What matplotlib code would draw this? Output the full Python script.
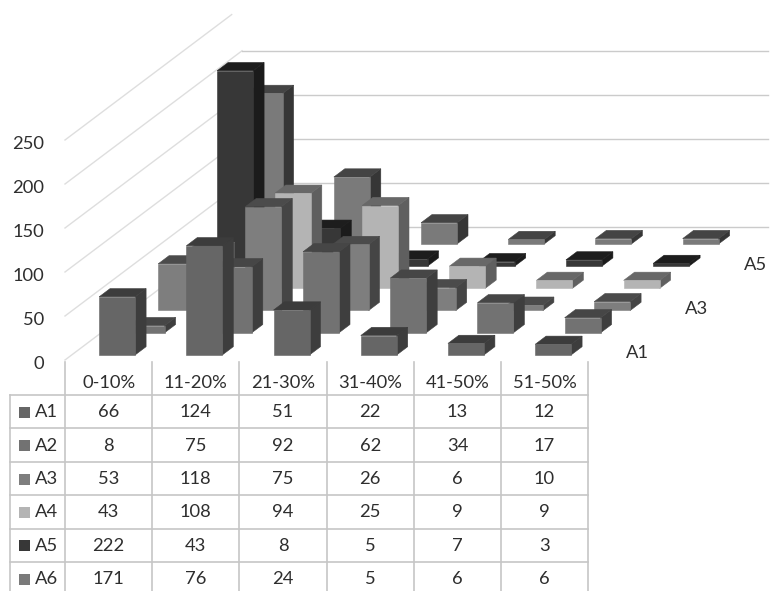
import matplotlib
matplotlib.use("Agg")
import matplotlib.pyplot as plt
from matplotlib.patches import Polygon, Rectangle

plt.rcParams['font.family'] = ['Lato', 'DejaVu Sans']

categories = ['0-10%', '11-20%', '21-30%', '31-40%', '41-50%', '51-50%']
series_names = ['A1', 'A2', 'A3', 'A4', 'A5', 'A6']
a1 = [66, 124, 51, 22, 13, 12]
a2 = [8, 75, 92, 62, 34, 17]
a3 = [53, 118, 75, 26, 6, 10]
a4 = [43, 108, 94, 25, 9, 9]
a5 = [222, 43, 8, 5, 7, 3]
a6 = [171, 76, 24, 5, 6, 6]
series_values = [a1, a2, a3, a4, a5, a6]
y_ticks = [0, 50, 100, 150, 200, 250]
depth_labels = {0: 'A1', 2: 'A3', 4: 'A5'}

# front, side, top shades per series
shades = [
    ('#666666', '#3d3d3d', '#3c3c3c'),
    ('#727272', '#3e3e3e', '#464646'),
    ('#7e7e7e', '#454545', '#4b4b4b'),
    ('#b4b4b4', '#5f5f5f', '#686868'),
    ('#373737', '#1b1b1b', '#1d1d1d'),
    ('#7a7a7a', '#363636', '#444444'),
]

# pixel scales of the oblique floor
CAT_PX = 87.2
VAL_PX = 0.88
DEPTH_X_PX = 29.5
DEPTH_Y_PX = 22.2
ORIGIN_X = 65
ORIGIN_Y = 360
W, H = 770, 591

WALL_SIDE = '#dedede'
WALL_BACK = '#cbcbcb'
TEXT = '#2e2e2e'
TEXT_SIZE = 13.2


def project(u, v, z):
    return u + v * DEPTH_X_PX / CAT_PX, z + v * DEPTH_Y_PX / VAL_PX


def draw_bar(ax, cat, ser, value, colors):
    front, side, top = colors
    u0, u1 = cat + 0.314, cat + 0.727
    v0, v1 = ser + 0.23, ser + 0.6
    faces = [
        (side, [(u1, v0, 0), (u1, v1, 0), (u1, v1, value), (u1, v0, value)]),
        (top, [(u0, v0, value), (u1, v0, value), (u1, v1, value), (u0, v1, value)]),
        (front, [(u0, v0, 0), (u1, v0, 0), (u1, v0, value), (u0, v0, value)]),
    ]
    for color, pts in faces:
        ax.add_patch(Polygon([project(*p) for p in pts], closed=True,
                             facecolor=color, edgecolor=color, linewidth=0.4, zorder=3))


fig = plt.figure(figsize=(W / 100, H / 100), dpi=100)
ax = fig.add_axes([0, 0, 1, 1])
ax.set_xlim(-ORIGIN_X / CAT_PX, (W - ORIGIN_X) / CAT_PX)
ax.set_ylim((ORIGIN_Y - H) / VAL_PX, ORIGIN_Y / VAL_PX)
ax.axis('off')

# walls
for tick in y_ticks:
    end = 5.65 if tick == 250 else 6
    x0, y0 = project(0, 0, tick)
    x1, y1 = project(0, end, tick)
    ax.plot([x0, x1], [y0, y1], color=WALL_SIDE, lw=1.0, zorder=1)
    if tick < 250:
        x2, y2 = project(6.03, 6, tick)
        ax.plot([x1, x2], [y1, y2], color=WALL_BACK, lw=1.0, zorder=1)
    ax.text(x0 - 21 / CAT_PX, tick - 4 / VAL_PX, str(tick), ha='right', va='center',
            color=TEXT, fontsize=TEXT_SIZE)

# back series first so the nearer bars cover them
for ser in reversed(range(len(series_values))):
    for cat, value in enumerate(series_values[ser]):
        draw_bar(ax, cat, ser, value, shades[ser])

for ser, name in depth_labels.items():
    x, y = project(6.4, ser + 0.5, -5)
    ax.text(x, y, name, ha='center', va='center', color=TEXT, fontsize=TEXT_SIZE)

# data table, laid out in pixels
tab = fig.add_axes([0, 0, 1, 1])
tab.set_xlim(0, W)
tab.set_ylim(H, 0)
tab.axis('off')
tab.patch.set_alpha(0)

col_x = [ORIGIN_X + i * CAT_PX for i in range(len(categories) + 1)]
row_y = [395 + i * 33.4 for i in range(len(series_names))]
TABLE_LINE = '#c6c6c6'

for x in col_x:
    tab.plot([x, x], [362, H], color=TABLE_LINE, lw=1.2)
tab.plot([10, 10], [row_y[0], H], color=TABLE_LINE, lw=1.2)
for y in row_y:
    tab.plot([10, col_x[-1]], [y, y], color=TABLE_LINE, lw=1.2)

for j, cat in enumerate(categories):
    tab.text((col_x[j] + col_x[j + 1]) / 2, 383, cat, ha='center', va='center',
             color=TEXT, fontsize=TEXT_SIZE)

for i, name in enumerate(series_names):
    cy = row_y[i] + 17.2
    tab.add_patch(Rectangle((19, cy - 5.5), 11, 11, facecolor=shades[i][0], edgecolor='none'))
    tab.text(35, cy, name, ha='left', va='center', color=TEXT, fontsize=TEXT_SIZE)
    for j, value in enumerate(series_values[i]):
        tab.text((col_x[j] + col_x[j + 1]) / 2, cy, str(value), ha='center', va='center',
                 color=TEXT, fontsize=TEXT_SIZE)

fig.savefig('out.png', dpi=100)
